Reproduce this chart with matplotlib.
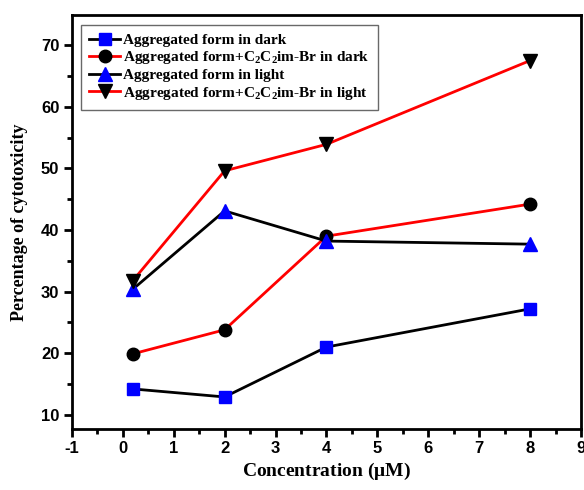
import matplotlib.pyplot as plt
from matplotlib.ticker import MultipleLocator

# concentrations (uM) and cytotoxicity (%)
conc = [0.2, 2, 4, 8]
agg_dark = [14.2, 12.9, 21.0, 27.2]
agg_ion_dark = [19.9, 23.8, 39.0, 44.2]
agg_light = [30.4, 43.1, 38.2, 37.7]
agg_ion_light = [31.8, 49.6, 53.9, 67.5]

labels = [
    "Aggregated form in dark",
    r"Aggregated form+$\mathregular{C_2C_2}$im-Br in dark",
    "Aggregated form in light",
    r"Aggregated form+$\mathregular{C_2C_2}$im-Br in light",
]

plt.rcParams['mathtext.fontset'] = 'custom'
plt.rcParams['mathtext.rm'] = 'Liberation Serif:bold'
plt.rcParams['axes.unicode_minus'] = False

fig = plt.figure(figsize=(5.84, 4.9), dpi=100)
ax = fig.add_axes([0.123, 0.1245, 0.872, 0.845])

ax.plot(conc, agg_dark, color='black', lw=2, marker='s', ms=9,
        mfc='blue', mec='blue', label=labels[0])
ax.plot(conc, agg_ion_dark, color='red', lw=2, marker='o', ms=9,
        mfc='black', mec='black', label=labels[1])
ax.plot(conc, agg_light, color='black', lw=2, marker='^', ms=10,
        mfc='blue', mec='blue', label=labels[2])
ax.plot(conc, agg_ion_light, color='red', lw=2, marker='v', ms=10,
        mfc='black', mec='black', label=labels[3])

ax.set_xlim(-1, 9)
ax.set_ylim(7.7, 74.9)
ax.xaxis.set_major_locator(MultipleLocator(1))
ax.xaxis.set_minor_locator(MultipleLocator(0.5))
ax.yaxis.set_major_locator(MultipleLocator(10))
ax.yaxis.set_minor_locator(MultipleLocator(5))
ax.set_yticks(range(10, 80, 10))

for s in ax.spines.values():
    s.set_linewidth(2)
ax.tick_params(which='major', direction='out', length=6, width=2, pad=3,
               labelsize=12, top=False, right=False)
ax.tick_params(which='minor', direction='out', length=3.5, width=2,
               top=False, right=False)
for t in ax.get_xticklabels() + ax.get_yticklabels():
    t.set_fontfamily('Liberation Sans')
    t.set_fontweight('bold')

ax.set_xlabel(r"Concentration ($\mathregular{\mu}$M)", fontsize=14,
              fontfamily='Liberation Serif', fontweight='bold', labelpad=3)
ax.set_ylabel("Percentage of cytotoxicity", fontsize=13,
              fontfamily='Liberation Serif', fontweight='bold', labelpad=9)

leg = ax.legend(loc='upper left', bbox_to_anchor=(0.018, 0.976),
                borderaxespad=0,
                prop={'family': 'Liberation Serif', 'weight': 'bold', 'size': 11},
                fancybox=False, edgecolor='#444444', handlelength=2.0,
                handletextpad=0.2, labelspacing=0.15, borderpad=0.55)
leg.get_frame().set_linewidth(1)

fig.savefig("out.png", dpi=100)
